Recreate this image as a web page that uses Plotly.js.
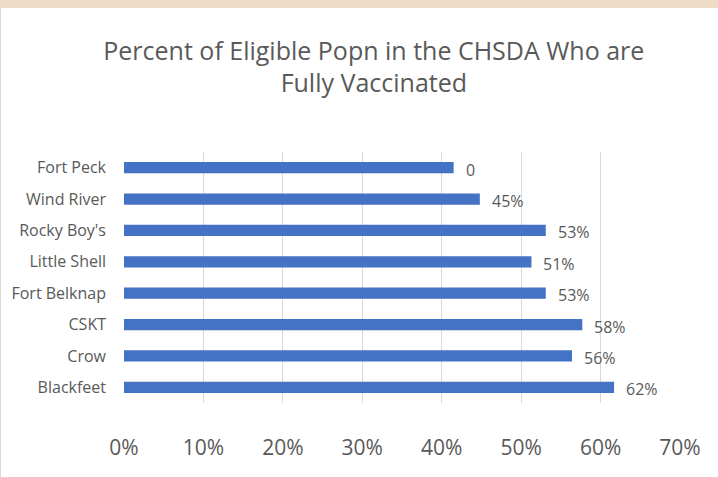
<!DOCTYPE html>
<html>
<head>
<meta charset="utf-8">
<script src="https://cdn.plot.ly/plotly-3.0.1.min.js"></script>
<style>
    html, body { margin: 0; padding: 0; background: #ffffff; }
    #chart {
        width: 717px;
        height: 469px;
        border-top: 8px solid #eedcc6;
        border-left: 1px solid #d9d9d9;
    }
</style>
</head>
<body>
<div id="chart"></div>
<script>
// top to bottom as shown in the chart
var tribes = ["Fort Peck", "Wind River", "Rocky Boy's", "Little Shell", "Fort Belknap", "CSKT", "Crow", "Blackfeet"];
var pctVaccinated = [0.415, 0.448, 0.531, 0.513, 0.531, 0.577, 0.564, 0.617];
var barLabels = ["0", "45%", "53%", "51%", "53%", "58%", "56%", "62%"];
var xTickVals = [0, 0.1, 0.2, 0.3, 0.4, 0.5, 0.6, 0.7];
var xTickText = ["0%", "10%", "20%", "30%", "40%", "50%", "60%", "70%"];

var textColor = "#595959";
var fontFam = "'Open Sans', 'Noto Sans', sans-serif";

var data = [{
    type: 'bar',
    orientation: 'h',
    x: pctVaccinated,
    y: tribes,
    width: 0.36,
    marker: { color: '#4472c4' },
    hoverinfo: 'x+y'
}];

// data labels sit a little right of each bar end
var labels = [];
for (var i = 0; i < tribes.length; i++) {
    labels.push({
        x: pctVaccinated[i],
        y: tribes[i],
        text: barLabels[i],
        showarrow: false,
        xanchor: 'left',
        xshift: 10,
        yshift: -2,
        font: { family: fontFam, size: 16, color: textColor }
    });
}

var layout = {
    width: 717,
    height: 469,
    margin: { l: 123, r: 38, t: 144, b: 74, pad: 0 },
    paper_bgcolor: '#ffffff',
    plot_bgcolor: '#ffffff',
    showlegend: false,
    title: {
        text: 'Percent of Eligible Popn in the CHSDA Who are<br>Fully Vaccinated',
        font: { family: fontFam, size: 25, color: textColor },
        x: 0.52,
        xanchor: 'center',
        y: 0.89,
        yanchor: 'top'
    },
    xaxis: {
        range: [0, 0.7],
        tickvals: xTickVals,
        ticktext: xTickText,
        showgrid: true,
        gridcolor: '#d9d9d9',
        gridwidth: 1,
        zeroline: false,
        showline: false,
        ticks: '',
        ticklabelstandoff: 30,
        tickfont: { family: fontFam, size: 21, color: textColor },
        fixedrange: true
    },
    yaxis: {
        autorange: 'reversed',
        showgrid: false,
        zeroline: false,
        showline: false,
        ticks: '',
        ticklabelstandoff: 17,
        tickfont: { family: fontFam, size: 16, color: textColor },
        fixedrange: true
    },
    annotations: labels,
    bargap: 0.64
};

var config = { displayModeBar: false, staticPlot: true };

Plotly.newPlot('chart', data, layout, config);
</script>
</body>
</html>
